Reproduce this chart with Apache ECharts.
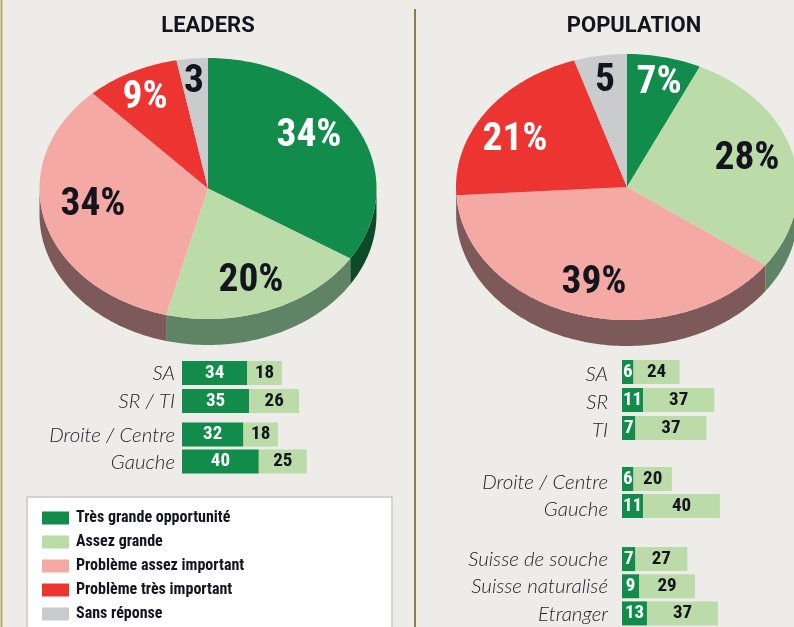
<!DOCTYPE html>
<html>
<head>
<meta charset="utf-8">
<style>
  html, body { margin: 0; padding: 0; background: #edece8; }
  #chart { width: 794px; height: 627px; }
</style>
<script src="https://cdn.jsdelivr.net/npm/echarts@6/dist/echarts.min.js"></script>
</head>
<body>
<div id="chart"></div>
<script>
// answers, same order for both pies
const answers = ['Très grande opportunité', 'Assez grande', 'Problème assez important', 'Problème très important', 'Sans réponse'];
const leadersValues = [34, 20, 34, 9, 3];
const populationValues = [7, 28, 39, 21, 5];

// bars under the pies
const leadersRegionCats = ['SA', 'SR / TI'];
const leadersRegionHigh = [34, 35];
const leadersRegionFair = [18, 26];
const leadersPartyCats = ['Droite / Centre', 'Gauche'];
const leadersPartyHigh = [32, 40];
const leadersPartyFair = [18, 25];
const popRegionCats = ['SA', 'SR', 'TI'];
const popRegionHigh = [6, 11, 7];
const popRegionFair = [24, 37, 37];
const popPartyCats = ['Droite / Centre', 'Gauche'];
const popPartyHigh = [6, 11];
const popPartyFair = [20, 40];
const popOriginCats = ['Suisse de souche', 'Suisse naturalisé', 'Etranger'];
const popOriginHigh = [7, 9, 13];
const popOriginFair = [27, 29, 37];

const topColors = ['#118c4b', '#bbdba9', '#f5a9a4', '#ec3530', '#c9cbcd'];
const wallColors = ['#0d4a27', '#5f8465', '#7d5a59', '#7d2a28', '#77787a'];
const labelColors = ['#fff', '#14141f', '#14141f', '#fff', '#14141f'];
const ink = '#14141f';
const narrow = '"Roboto Condensed", Roboto, sans-serif';

const leadersPie = { cx: 208, cy: 188.5, rx: 168.5, ry: 130.5, depth: 26, labels: [[309, 136], [251, 281], [93, 205], [145, 98], [194, 82]] };
const popPie = { cx: 627, cy: 187, rx: 171, ry: 133, depth: 26, labels: [[659, 83], [747, 159], [594, 283], [515, 140], [605, 81]] };

function arcPoints(pie, a0, a1, dy) {
  let pts = [];
  let n = Math.max(2, Math.ceil((a1 - a0) / 0.02));
  for (let i = 0; i <= n; i++) {
    let a = a0 + (a1 - a0) * i / n;
    pts.push([pie.cx + pie.rx * Math.sin(a), pie.cy - pie.ry * Math.cos(a) + dy]);
  }
  return pts;
}

// tilted pie slice: top face plus the visible part of the rim
function sliceRenderer(pie, idx) {
  return function (params, api) {
    let toAngle = v => v / 100 * Math.PI * 2;
    let a0 = toAngle(api.value(1));
    let a1 = toAngle(api.value(1) + api.value(0));
    let children = [];
    let w0 = Math.max(a0, Math.PI / 2), w1 = Math.min(a1, Math.PI * 1.5);
    if (w1 > w0) {
      let upper = arcPoints(pie, w0, w1, 0);
      let lower = arcPoints(pie, w0, w1, pie.depth).reverse();
      children.push({ type: 'polygon', shape: { points: upper.concat(lower) }, style: { fill: wallColors[idx] } });
    }
    children.push({
      type: 'polygon',
      shape: { points: [[pie.cx, pie.cy]].concat(arcPoints(pie, a0, a1, 0)) },
      style: { fill: topColors[idx] }
    });
    children.push({
      type: 'text',
      z2: 10,
      style: {
        text: api.value(0) + (idx === 4 ? '' : '%'),
        x: pie.labels[idx][0], y: pie.labels[idx][1],
        align: 'center', verticalAlign: 'middle',
        fill: labelColors[idx],
        font: 'bold 39.5px ' + narrow
      }
    });
    return { type: 'group', children: children };
  };
}

let series = [];
[[leadersValues, leadersPie], [populationValues, popPie]].forEach(([values, pie]) => {
  let start = 0;
  values.forEach((v, i) => {
    series.push({
      name: answers[i],
      type: 'custom',
      coordinateSystem: 'none',
      silent: true,
      itemStyle: { color: topColors[i] },
      renderItem: sliceRenderer(pie, i),
      data: [[v, start]]
    });
    start += v;
  });
});

let grids = [], xAxes = [], yAxes = [];
function addBars(left, top, height, margin, labelDy, cats, high, fair) {
  let g = grids.length;
  grids.push({ left: left, top: top, width: 163.2, height: height });
  xAxes.push({ gridIndex: g, type: 'value', min: 0, max: 85, show: false });
  yAxes.push({
    gridIndex: g, type: 'category', inverse: true, data: cats,
    axisLine: { show: false }, axisTick: { show: false },
    axisLabel: {
      interval: 0, margin: margin, fontFamily: 'Lato', fontStyle: 'italic', fontWeight: 300, fontSize: 20.5, color: '#22222c',
      // text sits in the middle of its line box, so this nudges it down by labelDy
      verticalAlign: 'top', lineHeight: labelDy * 2
    }
  });
  [high, fair].forEach((vals, i) => {
    series.push({
      name: answers[i],
      type: 'bar',
      stack: 'g' + g,
      xAxisIndex: g,
      yAxisIndex: g,
      barWidth: 24,
      silent: true,
      data: vals,
      itemStyle: { color: topColors[i] },
      label: { show: true, position: 'inside', fontFamily: narrow, fontWeight: 'bold', fontSize: 19, color: labelColors[i] }
    });
  });
}
addBars(182, 359, 56, 7, 0.5, leadersRegionCats, leadersRegionHigh, leadersRegionFair);
addBars(182, 421, 54, 7, 0.5, leadersPartyCats, leadersPartyHigh, leadersPartyFair);
addBars(622, 358, 84, 14, 2, popRegionCats, popRegionHigh, popRegionFair);
addBars(622, 465.5, 54, 14, 3, popPartyCats, popPartyHigh, popPartyFair);
addBars(622, 545.5, 82.5, 14, 0.5, popOriginCats, popOriginHigh, popOriginFair);

let chart = echarts.init(document.getElementById('chart'));
chart.setOption({
  backgroundColor: '#edece8',
  animation: false,
  title: [
    { text: 'LEADERS', left: 208, top: 15.5, padding: 0, textAlign: 'center', textStyle: { fontFamily: 'Roboto', fontWeight: 'bold', fontSize: 22, color: ink } },
    { text: 'POPULATION', left: 634, top: 15.5, padding: 0, textAlign: 'center', textStyle: { fontFamily: 'Roboto', fontWeight: 'bold', fontSize: 22, color: ink } }
  ],
  legend: {
    left: 42, top: 510, height: 300, orient: 'vertical', padding: 0,
    itemWidth: 27, itemHeight: 13, itemGap: 8,
    icon: 'rect', selectedMode: false,
    data: answers,
    textStyle: { fontFamily: narrow, fontWeight: 'bold', fontSize: 16, color: ink, lineHeight: 13, padding: [0, 0, 0, 2] }
  },
  graphic: [
    { type: 'rect', z: -1, shape: { x: 27, y: 497, width: 365, height: 150 }, style: { fill: '#fff', stroke: '#c8c8c6', lineWidth: 1.5 } },
    { type: 'line', z: -1, shape: { x1: 1.5, y1: 0, x2: 1.5, y2: 627 }, style: { stroke: '#b3ac6e', lineWidth: 2 } },
    { type: 'line', z: -1, shape: { x1: 415, y1: 9, x2: 415, y2: 627 }, style: { stroke: '#8f7d3f', lineWidth: 2 } }
  ],
  grid: grids,
  xAxis: xAxes,
  yAxis: yAxes,
  series: series
});
</script>
</body>
</html>
